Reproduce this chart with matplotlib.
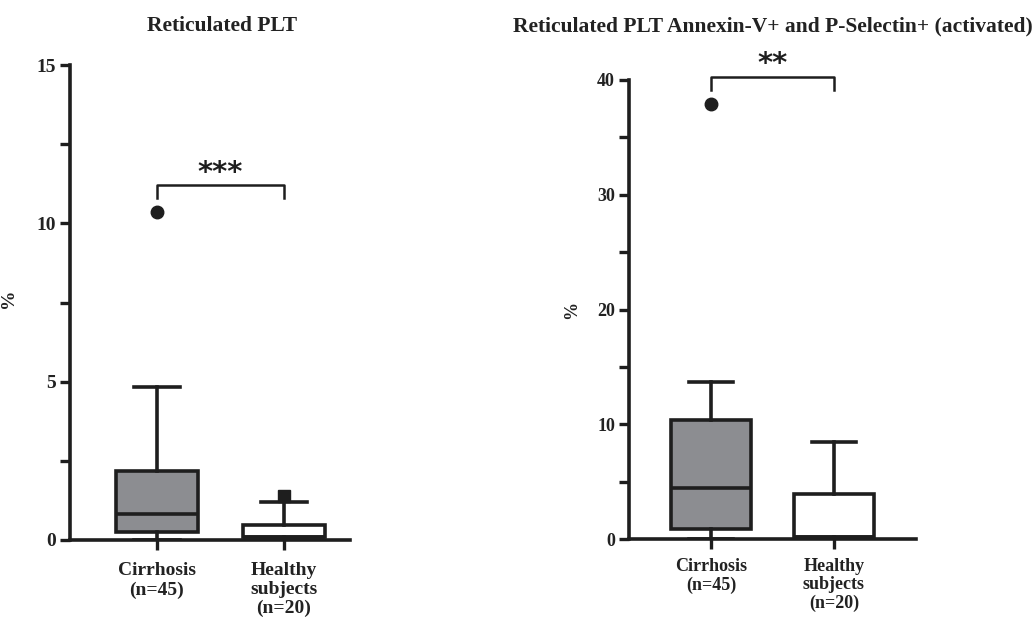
import matplotlib
matplotlib.use("Agg")
import matplotlib.pyplot as plt

plt.rcParams['font.family'] = ['Liberation Serif', 'DejaVu Serif']
plt.rcParams['font.weight'] = 'bold'

groups = ['Cirrhosis\n(n=45)', 'Healthy\nsubjects\n(n=20)']

# Reticulated PLT (%)
ret_q1 = [0.24, 0.10]
ret_med = [0.82, 0.10]
ret_q3 = [2.18, 0.47]
ret_lo = [0.0, 0.0]
ret_hi = [4.84, 1.21]
ret_out = [[10.35], [1.40]]

# Reticulated PLT Annexin-V+ and P-Selectin+ (%)
act_q1 = [0.87, 0.20]
act_med = [4.44, 0.20]
act_q3 = [10.39, 3.92]
act_lo = [0.0, 0.0]
act_hi = [13.7, 8.48]
act_out = [[37.9], []]

fill_colors = ['#8c8d91', 'white']
out_markers = ['o', 's']
ink = '#1e1e1e'
txt = '#222222'

fig = plt.figure(figsize=(10.35, 6.22), dpi=100)
W, H = 1035, 622
ax1 = fig.add_axes([70 / W, 1 - 540 / H, 280 / W, 475 / H])
ax2 = fig.add_axes([629 / W, 1 - 539 / H, 287 / W, 459 / H])


def draw(ax, q1, med, q3, lo, hi, out, xlim, ylim, major, minor, stars, bracket_y, tick_y,
         fs, xpad, lsp):
    for i in range(2):
        st = [dict(med=med[i], q1=q1[i], q3=q3[i], whislo=lo[i], whishi=hi[i], fliers=[])]
        ax.bxp(st, positions=[i + 1], widths=0.65, patch_artist=True, showfliers=False,
               boxprops=dict(facecolor=fill_colors[i], edgecolor=ink, linewidth=2.6),
               medianprops=dict(color=ink, linewidth=2.6),
               whiskerprops=dict(color=ink, linewidth=2.6),
               capprops=dict(color=ink, linewidth=2.6), capwidths=0.36,
               manage_ticks=False)
        if out[i]:
            ax.plot([i + 1] * len(out[i]), out[i], linestyle='none', marker=out_markers[i],
                    markersize=9, color=ink, clip_on=False)
    ax.set_xlim(*xlim)
    ax.set_ylim(*ylim)
    ax.set_xticks([1, 2])
    ax.set_xticklabels(groups, fontsize=fs, fontweight='bold', color=txt, va='top',
                       linespacing=lsp)
    ax.set_yticks(major)
    ax.set_yticks(minor, minor=True)
    ax.set_yticklabels([str(v) for v in major], fontsize=fs, fontweight='bold', color=txt)
    ax.tick_params(axis='both', which='both', width=2.4, length=7, color=ink)
    ax.tick_params(axis='x', pad=xpad)
    ax.tick_params(axis='y', pad=3)
    for s in ['top', 'right']:
        ax.spines[s].set_visible(False)
    for s in ['left', 'bottom']:
        ax.spines[s].set_linewidth(2.6)
        ax.spines[s].set_color(ink)
    ax.set_ylabel('%', fontsize=fs, fontweight='bold', color=txt)
    ax.plot([1, 1, 2, 2], [tick_y, bracket_y, bracket_y, tick_y], color=ink,
            linewidth=1.8, clip_on=False)
    ax.annotate(stars, xy=(1.5, bracket_y), xytext=(0, -1), textcoords='offset points',
                ha='center', va='bottom', fontsize=21, fontweight='bold',
                family=['DejaVu Sans'], color=ink, annotation_clip=False)


draw(ax1, ret_q1, ret_med, ret_q3, ret_lo, ret_hi, ret_out, (0.315, 2.52), (0, 15),
     [0, 5, 10, 15], [2.5, 7.5, 12.5], '***', 11.2, 10.8, 14, 9, 1.15)
draw(ax2, act_q1, act_med, act_q3, act_lo, act_hi, act_out, (0.333, 2.667), (0, 40),
     [0, 10, 20, 30, 40], [5, 15, 25, 35], '**', 40.3, 39.1, 13, 7, 1.08)

ax1.yaxis.set_label_coords(-0.19, 0.51)
ax2.yaxis.set_label_coords(-0.17, 0.50)

fig.text(222 / W, 1 - 26 / H, 'Reticulated PLT', ha='center', va='center',
         fontsize=15.5, fontweight='bold', color=txt)
fig.text(773 / W, 1 - 26 / H, 'Reticulated PLT Annexin-V+ and P-Selectin+ (activated)',
         ha='center', va='center', fontsize=15.5, fontweight='bold', color=txt)

fig.savefig('out.png', dpi=100)
